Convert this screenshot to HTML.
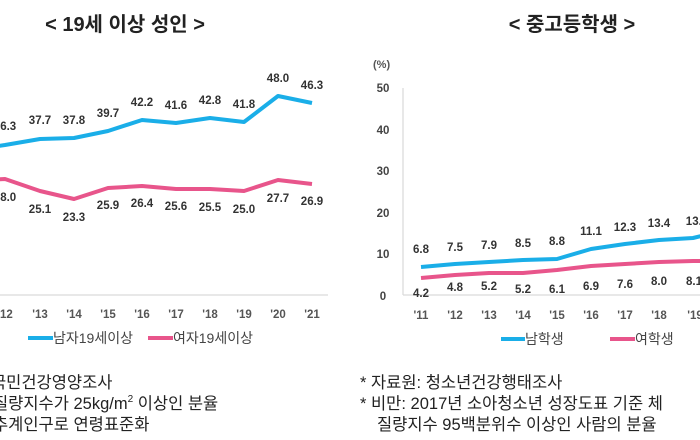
<!DOCTYPE html>
<html><head><meta charset="utf-8"><style>
html,body{margin:0;padding:0;background:#fff;width:700px;height:440px;overflow:hidden}
svg{display:block}
text{font-family:"Liberation Sans","Noto Sans CJK KR",sans-serif}
.v{font-size:11.5px;font-weight:bold;fill:#333;text-anchor:middle}
.x{font-size:11.5px;font-weight:bold;fill:#555;text-anchor:middle}
.t{font-size:20px;font-weight:bold;fill:#222;text-anchor:middle}
.f{font-size:16.5px;fill:#222}
.l{font-size:14px;fill:#444}
</style></head><body>
<svg width="700" height="440" viewBox="0 0 700 440">
<!-- Titles -->
<text class="t" x="125" y="31">&lt; 19세 이상 성인 &gt;</text>
<text class="t" x="572" y="31">&lt; 중고등학생 &gt;</text>

<!-- Left chart -->
<line x1="0" y1="295" x2="328" y2="295" stroke="#d9d9d9" stroke-width="1.2"/>
<polyline fill="none" stroke="#1aaee8" stroke-width="4" stroke-linejoin="round"
 points="-29,150 5,145 40,139 74,138 108,131 142,120 176,123 210,118 244,122 278,96 312,103"/>
<polyline fill="none" stroke="#e8558b" stroke-width="4" stroke-linejoin="round"
 points="-29,181 5,179 40,191 74,199 108,188 142,186 176,189 210,189 244,191 278,180 312,184"/>
<g class="v">
<text x="5" y="130">36.3</text><text x="40" y="124">37.7</text><text x="74" y="124">37.8</text>
<text x="108" y="117">39.7</text><text x="142" y="106">42.2</text><text x="176" y="109">41.6</text>
<text x="210" y="104">42.8</text><text x="244" y="108">41.8</text><text x="278" y="82">48.0</text><text x="312" y="89">46.3</text>
<text x="5" y="201">28.0</text><text x="40" y="213">25.1</text><text x="74" y="221">23.3</text>
<text x="108" y="209">25.9</text><text x="142" y="207">26.4</text><text x="176" y="210">25.6</text>
<text x="210" y="211">25.5</text><text x="244" y="213">25.0</text><text x="278" y="202">27.7</text><text x="312" y="205">26.9</text>
</g>
<g class="x">
<text x="5" y="318">'12</text><text x="40" y="318">'13</text><text x="74" y="318">'14</text><text x="108" y="318">'15</text>
<text x="142" y="318">'16</text><text x="176" y="318">'17</text><text x="210" y="318">'18</text><text x="244" y="318">'19</text>
<text x="278" y="318">'20</text><text x="312" y="318">'21</text>
</g>
<line x1="28" y1="338" x2="53" y2="338" stroke="#1aaee8" stroke-width="4"/>
<text class="l" x="53" y="343">남자19세이상</text>
<line x1="148" y1="338" x2="173" y2="338" stroke="#e8558b" stroke-width="4"/>
<text class="l" x="173" y="343">여자19세이상</text>
<text class="f" x="-9" y="388">국민건강영양조사</text>
<text class="f" x="-7" y="409">질량지수가 25kg/m<tspan font-size="10" dy="-7">2</tspan><tspan dy="7"> 이상인 분율</tspan></text>
<text class="f" x="-7" y="430">추계인구로 연령표준화</text>

<!-- Right chart -->
<text x="373" y="68" font-size="11" fill="#555" font-weight="bold">(%)</text>
<g font-size="11.5" font-weight="bold" fill="#444" text-anchor="middle">
<text x="383" y="92">50</text><text x="383" y="134">40</text><text x="383" y="175">30</text>
<text x="383" y="217">20</text><text x="383" y="258">10</text><text x="383" y="300">0</text>
</g>
<line x1="403" y1="88" x2="403" y2="295" stroke="#d9d9d9" stroke-width="1.2"/>
<line x1="403" y1="295" x2="700" y2="295" stroke="#d9d9d9" stroke-width="1.2"/>
<polyline fill="none" stroke="#1aaee8" stroke-width="4" stroke-linejoin="round"
 points="421,267 455,264 489,262 523,260 557,259 591,249 625,244 659,240 693,238 727,230"/>
<polyline fill="none" stroke="#e8558b" stroke-width="4" stroke-linejoin="round"
 points="421,278 455,275 489,273 523,273 557,270 591,266 625,264 659,262 693,261 727,261"/>
<g class="v">
<text x="421" y="253">6.8</text><text x="455" y="251">7.5</text><text x="489" y="249">7.9</text>
<text x="523" y="247">8.5</text><text x="557" y="245">8.8</text><text x="591" y="235">11.1</text>
<text x="625" y="231">12.3</text><text x="659" y="227">13.4</text><text x="697" y="225">13.8</text>
<text x="421" y="297">4.2</text><text x="455" y="291">4.8</text><text x="489" y="290">5.2</text>
<text x="523" y="293">5.2</text><text x="557" y="293">6.1</text><text x="591" y="290">6.9</text>
<text x="625" y="288">7.6</text><text x="659" y="285">8.0</text><text x="694" y="285">8.1</text>
</g>
<g class="x">
<text x="421" y="319">'11</text><text x="455" y="319">'12</text><text x="489" y="319">'13</text><text x="523" y="319">'14</text>
<text x="557" y="319">'15</text><text x="591" y="319">'16</text><text x="625" y="319">'17</text><text x="659" y="319">'18</text><text x="695" y="319">'19</text>
</g>
<line x1="501" y1="339" x2="525" y2="339" stroke="#1aaee8" stroke-width="4"/>
<text class="l" x="525" y="344">남학생</text>
<line x1="610" y1="339" x2="635" y2="339" stroke="#e8558b" stroke-width="4"/>
<text class="l" x="635" y="344">여학생</text>
<text class="f" x="360" y="388">* 자료원: 청소년건강행태조사</text>
<text class="f" x="360" y="409">* 비만: 2017년 소아청소년 성장도표 기준 체</text>
<text class="f" x="377" y="430">질량지수 95백분위수 이상인 사람의 분율</text>
</svg>
</body></html>
